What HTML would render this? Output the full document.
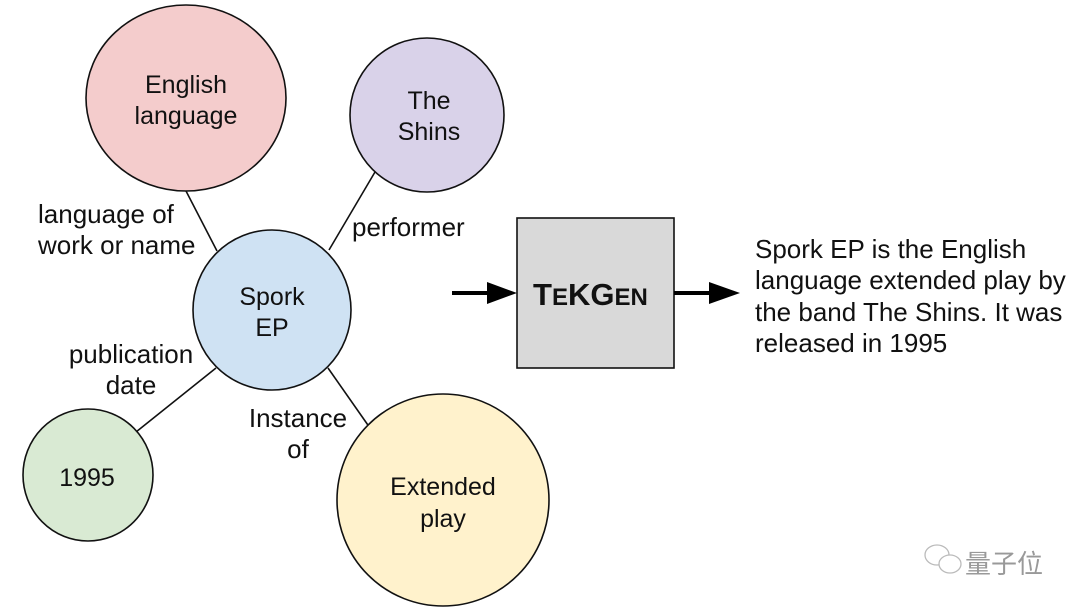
<!DOCTYPE html>
<html><head><style>body{margin:0;background:#fff}svg{display:block}text{font-family:"Liberation Sans",Arial,sans-serif;font-size:25px;fill:#111}</style></head>
<body>
<svg width="1080" height="610" viewBox="0 0 1080 610" xmlns="http://www.w3.org/2000/svg">
<g stroke="#111" stroke-width="1.6">
<line x1="186" y1="191" x2="217" y2="251"/>
<line x1="329" y1="250" x2="375" y2="172"/>
<line x1="216" y1="368" x2="136" y2="432"/>
<line x1="328" y1="368" x2="370" y2="428"/>
<ellipse cx="186" cy="98" rx="100" ry="93" fill="#f4cccc"/>
<ellipse cx="427" cy="115" rx="77" ry="77" fill="#d9d2e9"/>
<ellipse cx="272" cy="310" rx="79" ry="80" fill="#cfe2f3"/>
<ellipse cx="88" cy="475" rx="65" ry="66" fill="#d9ead3"/>
<ellipse cx="443" cy="500" rx="106" ry="106" fill="#fff2cc"/>
<rect x="517" y="218" width="157" height="150" fill="#d9d9d9"/>
</g>
<line x1="452" y1="293" x2="490" y2="293" stroke="#000" stroke-width="4"/>
<polygon points="487,282 517,293 487,304" fill="#000"/>
<line x1="674" y1="293" x2="712" y2="293" stroke="#000" stroke-width="4"/>
<polygon points="709,282 740,293 709,304" fill="#000"/>
<g text-anchor="middle">
<text x="186" y="93">English</text><text x="186" y="124">language</text>
<text x="429" y="109">The</text><text x="429" y="140">Shins</text>
<text x="272" y="305">Spork</text><text x="272" y="336">EP</text>
<text x="87" y="486">1995</text>
<text x="443" y="495">Extended</text><text x="443" y="527">play</text>
<text x="131" y="363" style="font-size:26px">publication</text><text x="131" y="394" style="font-size:26px">date</text>
<text x="298" y="427" style="font-size:26px">Instance</text><text x="298" y="458" style="font-size:26px">of</text>
</g>
<g style="font-size:26px">
<text x="38" y="223" style="font-size:26px">language of</text><text x="38" y="254" style="font-size:26px">work or name</text>
<text x="352" y="236" style="font-size:26px">performer</text>
</g>
<text x="533" y="305" style="font-weight:bold;font-size:31px">T<tspan style="font-size:24px">E</tspan>KG<tspan style="font-size:24px">EN</tspan></text>
<text x="755" y="258" style="font-size:26px">Spork EP is the English</text>
<text x="755" y="289" style="font-size:26px">language extended play by</text>
<text x="755" y="321" style="font-size:26px">the band The Shins. It was</text>
<text x="755" y="352" style="font-size:26px">released in 1995</text>
<g stroke="#bbb" fill="none" stroke-width="1.3"><ellipse cx="937" cy="555" rx="12" ry="10"/><ellipse cx="950" cy="564" rx="11" ry="9" fill="#fff"/></g>
<text x="965" y="573" style="font-family:'Noto Sans CJK SC',sans-serif;font-size:26px;fill:#999">量子位</text>
</svg>
</body></html>
